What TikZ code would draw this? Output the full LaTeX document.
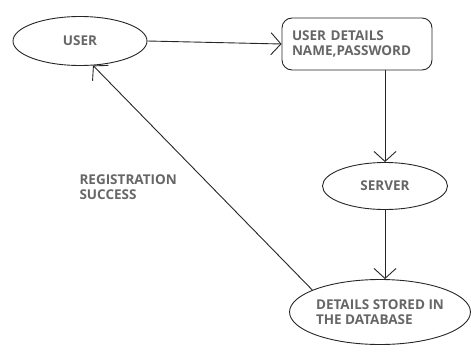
\documentclass[tikz,border=0pt]{standalone}
\usepackage{fontspec}
\setmainfont{Open Sans}
\usetikzlibrary{shapes.geometric,arrows.meta}

\begin{document}
\begin{tikzpicture}[x=1pt,y=-1pt,
    flow/.style={draw=black!85, line width=0.9pt},
    oval/.style={flow, ellipse, inner sep=0pt},
    lbl/.style={text=black!60, font=\fontsize{13.5}{15}\selectfont\bfseries},
    barb/.style={flow, -{Straight Barb[length=10pt,width=22pt]}}]
    \useasboundingbox (0,0) rectangle (471,351);

    % the two ends of the login
    \node[oval, lbl, minimum width=134pt, minimum height=49pt] (user) at (80,41) {USER};
    \node[flow, lbl, rounded corners=10pt, minimum width=150pt, minimum height=52pt,
          inner xsep=10pt, text width=130pt, align=left] (userinfo) at (357,44) {USER DETAILS\\NAME,PASSWORD};

    \node[oval, lbl, minimum width=125pt, minimum height=47pt] (server) at (385,186) {SERVER};
    \node[oval, lbl, minimum width=156pt, minimum height=65pt, align=left] (dbstore) at (380,312)
        {DETAILS STORED IN\\THE DATABASE};

    \node[lbl, align=left, anchor=north west] (regmsg) at (76,171) {REGISTRATION\\SUCCESS};

    % connectors
    \draw[barb] (user.east) -- (userinfo.west);
    \draw[barb] (server.north |- userinfo.south) -- (server.north);
    \draw[barb] (server.south) -- (dbstore.north -| server.south);
    \draw[barb] (dbstore.162) -- (user.298);
\end{tikzpicture}
\end{document}
